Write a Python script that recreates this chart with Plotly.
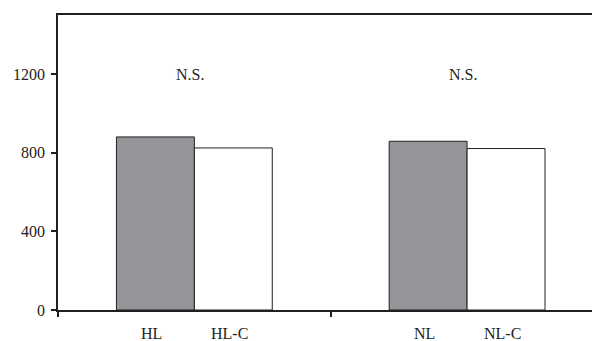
import plotly.graph_objects as go

groups = ["HL", "NL"]
treat_labels = ["HL", "NL"]
ctrl_labels = ["HL-C", "NL-C"]
treat_values = [880, 858]
ctrl_values = [824, 821]
sig_labels = ["N.S.", "N.S."]
y_ticks = [0, 400, 800, 1200]

FONT = "Liberation Serif, Times New Roman, serif"
TXT = "#231f20"
EDGE = "#231f20"
bar_w = 0.2857
label_shift = -0.013

fig = go.Figure()
fig.add_trace(go.Bar(x=groups, y=treat_values, name="treated",
                     marker=dict(color="#939598", line=dict(color=EDGE, width=1))))
fig.add_trace(go.Bar(x=groups, y=ctrl_values, name="control",
                     marker=dict(color="white", line=dict(color=EDGE, width=1))))

ann = []
for i, g in enumerate(groups):
    ann.append(dict(x=i - bar_w / 2 + label_shift, y=-0.078, xref="x", yref="paper",
                    yanchor="middle", text=treat_labels[i], showarrow=False,
                    font=dict(family=FONT, size=16, color=TXT)))
    ann.append(dict(x=i + bar_w / 2 + label_shift, y=-0.078, xref="x", yref="paper",
                    yanchor="middle", text=ctrl_labels[i], showarrow=False,
                    font=dict(family=FONT, size=16, color=TXT)))
    ann.append(dict(x=i - 0.016, y=1195, xref="x", yref="y", yanchor="middle",
                    text=sig_labels[i], showarrow=False,
                    font=dict(family=FONT, size=16, color=TXT)))

fig.update_layout(
    width=592, height=341,
    margin=dict(l=58, r=0, t=15, b=31),
    paper_bgcolor="white", plot_bgcolor="white",
    barmode="group", bargap=1 - 2 * bar_w, bargroupgap=0,
    showlegend=False,
    annotations=ann,
    font=dict(family=FONT, size=16, color=TXT),
)
fig.update_xaxes(type="category", range=[-0.5, 1.458], showticklabels=False,
                 tickson="boundaries", ticks="outside", ticklen=5, tickcolor=EDGE, tickwidth=1.5,
                 showline=True, linecolor=EDGE, linewidth=1.5, mirror=True,
                 showgrid=False, zeroline=False)
fig.update_yaxes(range=[0, 1500], tickvals=y_ticks, ticks="outside", ticklen=5,
                 tickcolor=EDGE, tickwidth=1.5, showline=True, linecolor=EDGE, linewidth=1.5,
                 showgrid=False, zeroline=False, ticklabelstandoff=3,
                 tickfont=dict(family=FONT, size=16, color=TXT))

fig.write_html("out.html", config={"displayModeBar": False},
               post_script="document.body.style.margin='0';document.body.style.overflow='hidden';")
